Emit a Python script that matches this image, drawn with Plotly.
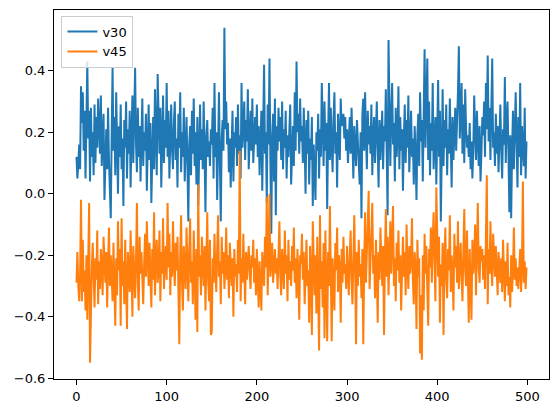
import plotly.graph_objects as go

# values, 500 samples per series
v30 = [
    0.12, 0.05, 0.10, 0.16, 0.08, 0.35, 0.23, 0.33, 0.14, 0.27, 0.05, 0.30, 0.43, 0.18, 0.27, 0.04, 0.28, 0.12, 0.20, 0.06, 0.29, 0.10, 0.25, 0.15, 0.31,
    0.22, 0.13, 0.32, 0.09, 0.18, 0.26, -0.02, 0.15, 0.21, 0.08, 0.28, 0.11, 0.03, -0.08, 0.19, 0.41, 0.14, 0.25, 0.06, 0.33, 0.17, 0.00, 0.22, 0.12, 0.29,
    0.08, 0.18, -0.04, 0.24, 0.15, 0.30, 0.05, 0.21, 0.13, 0.27, 0.02, 0.19, 0.32, 0.10, 0.24, 0.41, 0.16, 0.07, 0.28, 0.12, 0.22, 0.04, 0.18, 0.31, 0.09,
    0.20, 0.14, 0.26, 0.01, 0.17, 0.29, 0.11, 0.23, -0.03, 0.16, 0.25, 0.08, 0.34, 0.19, 0.06, 0.39, 0.21, 0.13, 0.28, 0.02, 0.17, 0.32, 0.10, 0.24, 0.15,
    0.36, 0.12, 0.27, 0.05, 0.21, 0.29, 0.14, 0.08, 0.23, 0.30, 0.11, 0.18, 0.02, 0.26, 0.15, 0.33, 0.07, 0.20, 0.12, 0.28, 0.04, 0.19, 0.25, 0.10, -0.09,
    0.16, 0.22, 0.06, 0.27, 0.13, 0.31, 0.09, 0.20, 0.03, 0.25, -0.04, 0.17, 0.29, 0.11, 0.21, 0.08, 0.30, 0.14, -0.06, 0.19, 0.24, 0.12, 0.17, 0.09, 0.21,
    0.16, 0.28, 0.05, 0.36, 0.12, 0.20, -0.02, 0.26, 0.33, 0.10, -0.09, 0.18, 0.24, 0.14, 0.54, 0.21, 0.30, 0.16, 0.23, 0.07, 0.18, 0.02, 0.11, 0.27, 0.04,
    0.20, 0.15, 0.25, 0.09, 0.29, 0.13, 0.19, 0.05, 0.36, 0.15, 0.22, 0.30, 0.11, 0.24, 0.17, 0.34, 0.08, 0.21, 0.27, 0.14, 0.31, 0.10, 0.19, 0.25, 0.16,
    0.29, 0.12, 0.22, 0.06, 0.18, 0.27, 0.01, 0.24, 0.42, 0.13, 0.20, -0.03, 0.29, 0.16, 0.44, 0.10, -0.13, 0.19, 0.26, 0.04, 0.31, -0.07, 0.22, 0.14, 0.28,
    0.17, 0.25, 0.11, 0.30, 0.08, 0.21, 0.15, 0.27, 0.05, 0.19, 0.12, 0.24, 0.29, 0.03, 0.18, 0.22, 0.09, 0.33, 0.14, 0.43, 0.20, 0.26, 0.13, 0.31, 0.17,
    0.22, 0.10, 0.28, 0.16, 0.00, 0.24, 0.13, 0.27, 0.03, 0.18, 0.11, 0.25, -0.04, 0.16, 0.07, -0.02, 0.20, 0.14, 0.26, 0.05, 0.21, 0.12, 0.36, 0.17, 0.09,
    0.30, 0.14, 0.23, -0.05, 0.19, 0.36, 0.11, 0.28, 0.16, 0.07, 0.24, 0.33, 0.13, 0.20, 0.02, 0.26, 0.17, 0.11, 0.31, 0.22, 0.24, 0.26, 0.18, 0.25, 0.14,
    0.21, 0.10, 0.19, 0.25, 0.13, 0.28, 0.17, 0.05, 0.22, 0.15, 0.09, 0.24, 0.18, 0.12, 0.03, 0.20, -0.08, 0.26, 0.31, 0.14, 0.33, 0.19, 0.08, 0.27, 0.16,
    0.22, 0.13, 0.29, 0.06, 0.18, 0.25, 0.10, 0.21, 0.30, 0.15, 0.02, 0.24, 0.11, 0.19, 0.27, 0.08, 0.22, 0.17, 0.34, 0.13, -0.07, 0.50, 0.20, 0.09, 0.26,
    0.36, 0.16, 0.23, 0.04, 0.28, 0.12, 0.19, 0.35, 0.08, 0.25, 0.14, 0.21, 0.01, 0.18, 0.29, 0.10, 0.24, 0.15, 0.32, 0.07, 0.20, 0.27, 0.12, 0.18, 0.03,
    0.22, 0.13, -0.02, 0.19, 0.26, 0.09, 0.33, 0.17, 0.24, 0.04, 0.21, 0.47, 0.15, 0.28, 0.44, 0.11, 0.30, 0.06, 0.23, 0.14, 0.36, 0.08, 0.19, 0.25, 0.03,
    0.20, 0.37, 0.12, 0.27, -0.09, 0.18, 0.34, 0.09, 0.24, 0.15, 0.29, 0.06, 0.21, 0.13, 0.31, 0.17, 0.02, 0.25, 0.11, 0.20, 0.28, 0.14, 0.22, 0.33, 0.48,
    0.18, 0.26, 0.36, 0.13, 0.29, 0.10, 0.34, 0.21, 0.15, 0.19, 0.12, 0.23, 0.08, 0.17, 0.05, 0.14, 0.32, 0.20, 0.11, 0.27, 0.16, 0.09, 0.22, 0.04, 0.13,
    0.25, 0.19, 0.30, 0.12, 0.36, 0.21, 0.45, 0.17, 0.28, 0.11, 0.24, 0.44, 0.15, 0.20, 0.09, 0.26, 0.13, 0.22, 0.07, 0.18, 0.29, 0.14, 0.05, 0.21, 0.16,
    0.38, 0.10, 0.24, 0.30, 0.13, -0.06, 0.19, -0.08, 0.14, 0.27, 0.08, 0.21, 0.33, 0.17, 0.02, 0.25, 0.12, 0.36, 0.06, 0.22, 0.15, 0.09, 0.28, 0.05, 0.17,
]

v45 = [
    -0.29, -0.19, -0.30, -0.35, -0.26, -0.02, -0.35, -0.15, -0.32, -0.25, -0.38, -0.20, -0.41, -0.27, -0.03, -0.55, -0.30, -0.24, -0.16, -0.32, -0.37, -0.21, -0.28, -0.12, -0.36,
    -0.22, -0.31, -0.18, -0.26, -0.33, -0.14, -0.24, -0.29, -0.19, -0.37, -0.23, -0.11, -0.30, -0.20, -0.27, -0.35, -0.16, -0.28, -0.43, -0.21, -0.33, -0.09, -0.25, -0.18, -0.43,
    -0.08, -0.30, -0.22, -0.36, -0.15, -0.27, -0.44, -0.19, -0.24, -0.32, -0.12, -0.28, -0.40, -0.17, -0.25, -0.34, -0.21, -0.03, -0.29, -0.38, -0.14, -0.26, -0.19, -0.31, -0.36,
    -0.23, -0.13, -0.27, -0.09, -0.20, -0.30, -0.16, -0.25, -0.37, -0.18, -0.28, -0.06, -0.33, -0.21, -0.15, -0.29, -0.24, -0.12, -0.35, -0.19, -0.26, -0.08, -0.31, -0.22, -0.17,
    -0.28, -0.03, -0.24, -0.13, -0.33, -0.19, -0.27, -0.09, -0.22, -0.30, -0.16, -0.25, -0.14, -0.36, -0.49, -0.20, -0.07, -0.29, -0.38, -0.17, -0.24, -0.31, -0.11, -0.26, -0.35,
    -0.19, -0.08, -0.29, -0.22, -0.36, -0.12, -0.25, -0.41, -0.18, -0.45, 0.03, -0.27, -0.20, -0.33, -0.14, -0.24, -0.30, -0.17, -0.38, -0.23, -0.06, -0.28, -0.35, -0.15, -0.46,
    -0.45, -0.21, -0.29, -0.13, -0.25, -0.32, -0.18, -0.07, -0.27, -0.22, -0.36, -0.14, -0.26, -0.19, -0.31, -0.24, -0.11, -0.28, -0.20, -0.34, -0.16, -0.25, -0.30, -0.21, -0.40,
    -0.18, -0.27, -0.23, -0.32, -0.15, -0.26, 0.14, -0.35, -0.21, -0.29, -0.13, -0.24, -0.36, -0.19, -0.28, -0.22, -0.17, -0.26, -0.31, -0.20, -0.24, -0.15, -0.29, -0.21, -0.33,
    -0.18, -0.25, -0.37, -0.22, -0.28, -0.38, -0.19, -0.26, -0.30, -0.14, -0.24, -0.01, -0.33, -0.20, 0.00, -0.27, -0.22, -0.16, -0.29, -0.23, -0.18, -0.26, -0.21, -0.31, -0.19,
    -0.09, -0.27, -0.33, -0.18, -0.24, -0.31, -0.12, -0.26, -0.20, -0.35, -0.15, -0.28, -0.22, -0.30, -0.17, -0.25, -0.11, -0.29, -0.21, -0.34, -0.18, -0.26, -0.41, -0.20, -0.23,
    -0.13, -0.28, -0.19, -0.36, -0.22, -0.15, -0.30, -0.25, -0.42, -0.17, -0.27, -0.46, -0.09, -0.24, -0.33, -0.20, -0.39, -0.14, -0.28, -0.51, -0.07, -0.31, -0.22, -0.37, -0.16,
    -0.47, -0.12, -0.26, -0.48, -0.19, -0.30, -0.04, -0.35, -0.48, -0.21, -0.27, -0.38, -0.16, -0.25, -0.11, -0.32, -0.20, -0.24, -0.42, -0.18, -0.29, -0.14, -0.26, -0.23, -0.31,
    -0.17, -0.26, -0.33, -0.20, -0.12, -0.28, -0.36, -0.22, -0.07, -0.25, -0.49, -0.19, -0.30, -0.15, -0.27, -0.23, -0.34, -0.18, -0.49, -0.24, -0.06, -0.29, -0.21, -0.13, 0.01,
    -0.31, -0.22, -0.18, -0.03, -0.26, -0.20, -0.34, -0.15, -0.25, -0.42, -0.19, -0.28, -0.11, -0.24, -0.30, -0.17, -0.46, -0.21, -0.05, -0.27, -0.14, -0.33, -0.22, -0.09, -0.26,
    -0.18, -0.04, -0.30, -0.21, -0.35, -0.16, -0.25, -0.12, -0.29, -0.20, -0.38, -0.23, -0.14, -0.27, -0.19, -0.33, -0.10, -0.24, -0.31, -0.17, -0.26, -0.22, -0.08, -0.28, -0.36,
    -0.19, -0.25, -0.44, -0.15, -0.27, -0.21, -0.52, -0.33, -0.54, -0.20, -0.38, -0.13, -0.26, -0.17, -0.31, -0.43, -0.18, -0.24, -0.11, -0.29, -0.15, -0.06, -0.22, -0.35, 0.02,
    -0.19, -0.27, -0.14, -0.42, -0.23, -0.30, -0.16, -0.46, -0.21, -0.11, -0.28, -0.34, -0.18, -0.25, -0.07, -0.32, -0.20, -0.26, -0.38, -0.13, -0.24, -0.17, -0.29, -0.09, -0.31,
    -0.22, -0.16, -0.27, -0.35, -0.19, -0.05, -0.25, -0.30, -0.12, -0.23, -0.42, -0.18, -0.28, -0.41, -0.15, -0.26, -0.21, -0.10, -0.33, -0.19, -0.03, -0.24, -0.29, -0.17, -0.22,
    -0.18, -0.28, -0.20, -0.31, -0.14, 0.06, -0.36, -0.18, -0.26, -0.09, -0.23, -0.30, -0.13, -0.21, -0.27, -0.17, -0.24, -0.33, -0.19, -0.26, -0.29, -0.21, -0.32, -0.15, -0.28,
    -0.35, -0.22, -0.30, -0.16, -0.33, -0.27, -0.37, -0.20, -0.32, -0.25, -0.11, -0.28, -0.21, -0.30, -0.24, -0.31, -0.26, -0.18, -0.32, -0.23, 0.04, -0.29, -0.22, -0.31, -0.24,
]

idx = list(range(len(v30)))

fig = go.Figure()
fig.add_trace(go.Scatter(x=idx, y=v30, mode="lines", name="v30",
                         line=dict(color="#1f77b4", width=2)))
fig.add_trace(go.Scatter(x=idx, y=v45, mode="lines", name="v45",
                         line=dict(color="#ff7f0e", width=2)))

axis_style = dict(showline=True, linecolor="black", linewidth=1, mirror=True,
                  ticks="outside", ticklen=5, tickcolor="black",
                  showgrid=False, zeroline=False,
                  tickfont=dict(size=13, color="black"))

fig.update_xaxes(range=[-24.95, 523.95], tickvals=[0, 100, 200, 300, 400, 500], **axis_style)
fig.update_yaxes(range=[-0.603, 0.598], tickvals=[-0.6, -0.4, -0.2, 0.0, 0.2, 0.4],
                 tickformat=".1f", **axis_style)

# page body adds an 8px offset, so the figure is a bit smaller than the window
fig.update_layout(
    width=551, height=405,
    margin=dict(l=46, r=10, t=2, b=34),
    plot_bgcolor="white", paper_bgcolor="white",
    font=dict(family="DejaVu Sans", size=13, color="black"),
    legend=dict(x=0.015, y=0.985, xanchor="left", yanchor="top",
                bgcolor="rgba(255,255,255,0.8)", bordercolor="#cccccc",
                borderwidth=1, font=dict(size=13), tracegroupgap=0),
    showlegend=True,
)

fig.write_html("out.html")
